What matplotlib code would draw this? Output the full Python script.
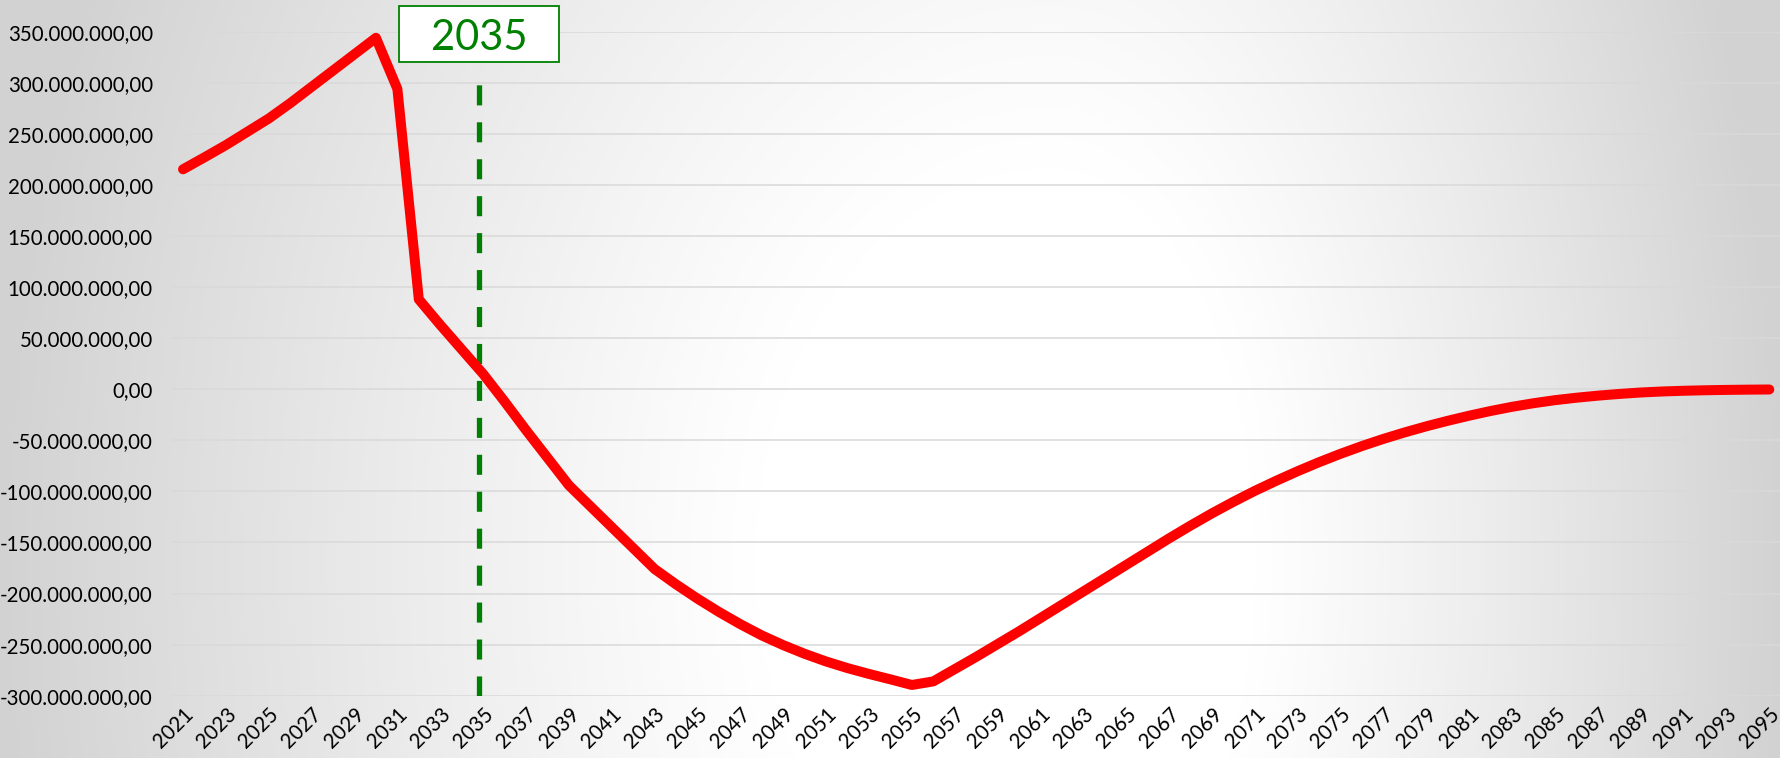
import numpy as np
import matplotlib
matplotlib.use("Agg")
import matplotlib.pyplot as plt
from matplotlib.patches import Rectangle
from matplotlib.ticker import FuncFormatter, MultipleLocator
from matplotlib.transforms import blended_transform_factory

# data (values in millions)
years = list(range(2021, 2096))
balance_m = [
    215.3, 227, 239, 252, 265, 280, 296, 312, 328, 344,                # 2021-2030
    294, 88, 63, 39, 15, -12, -40, -67, -94, -114.5,                   # 2031-2040
    -135, -155.5, -176, -191, -205, -218, -230, -241, -250.5, -259,    # 2041-2050
    -266.5, -273, -278.7, -284, -289.5, -286, -274, -262, -249.5, -237,  # 2051-2060
    -224, -211, -198, -185, -172, -159, -146, -133.5, -121.5, -110.2,  # 2061-2070
    -99.5, -89.6, -80.2, -71.4, -63.2, -55.6, -48.6, -42.2, -36.3, -30.9,  # 2071-2080
    -25.9, -21.3, -17.2, -13.7, -10.7, -8.3, -6.3, -4.6, -3.2, -2.2,   # 2081-2090
    -1.5, -1.0, -0.65, -0.4, -0.25,                                    # 2091-2095
]
marker_label = "2035"
marker_x = 2034.8
marker_top = 300e6
y_min, y_max = -300e6, 350e6

balance = np.array(balance_m) * 1e6

plt.rcParams['font.family'] = ['Lato', 'DejaVu Sans']

W, H, DPI = 1780, 758, 100
fig = plt.figure(figsize=(W / DPI, H / DPI), dpi=DPI)

# radial-ish grey background
bg = fig.add_axes([0, 0, 1, 1], zorder=-10)
xx, yy = np.meshgrid(np.arange(W), np.arange(H))
cx, cy = 1050, 560
dx = np.where(xx < cx, (cx - xx) / 1050, (xx - cx) / 730)
dy = np.abs(yy - cy) / 1400
d = np.sqrt(dx ** 2 + dy ** 2)
shade = np.clip((d - 0.28) / 0.72, 0, 1) ** 1.1
val = 1 - 0.175 * shade
bg.imshow(np.dstack([val, val, val]), aspect='auto', extent=(0, 1, 0, 1))
bg.axis('off')

ax = fig.add_axes([172.3 / W, 1 - 695.7 / H, 1 - 172.3 / W, (695.7 - 31.7) / H])
ax.set_facecolor('none')

ax.plot(years, balance, color='#ff0000', lw=7.2, solid_capstyle='round',
        solid_joinstyle='round', zorder=3)

ax.vlines(marker_x, y_min, marker_top, colors='#008000', lw=3.8,
          linestyles=(0, (3.8, 3.2)), zorder=2)

ax.set_xlim(years[0] - 0.5, years[-1] + 0.5)
ax.set_ylim(y_min, y_max)
ax.yaxis.set_major_locator(MultipleLocator(50e6))
ax.set_xticks(years[::2])


def fmt(v, pos):
    s = f"{v:,.2f}"
    return s.replace(',', 'X').replace('.', ',').replace('X', '.')


ax.yaxis.set_major_formatter(FuncFormatter(fmt))
ax.grid(axis='y', color='#d9d9d9', lw=1.1, zorder=0)
ax.tick_params(axis='y', length=0, pad=14, labelsize=14.8, labelcolor='black')
ax.tick_params(axis='x', length=0, pad=6, labelsize=14.8, labelcolor='black')
for lab in ax.get_xticklabels():
    lab.set_rotation(45)
    lab.set_ha('right')
    lab.set_va('top')
    lab.set_rotation_mode('anchor')
for sp in ax.spines.values():
    sp.set_visible(False)

# label box above the dashed line
tr = blended_transform_factory(ax.transData, fig.transFigure)
bw = 160 / ((W - 172.3) / 75)
ax.add_patch(Rectangle((marker_x - bw / 2, 1 - 62.3 / H), bw, 56.6 / H,
                       transform=tr, facecolor='white', edgecolor='#008000',
                       lw=1.3, clip_on=False, zorder=5))
ax.text(marker_x, 1 - 50 / H, marker_label, transform=tr, ha='center',
        va='baseline', fontsize=30, color='#008000', zorder=6)

fig.savefig('out.png', dpi=DPI)
